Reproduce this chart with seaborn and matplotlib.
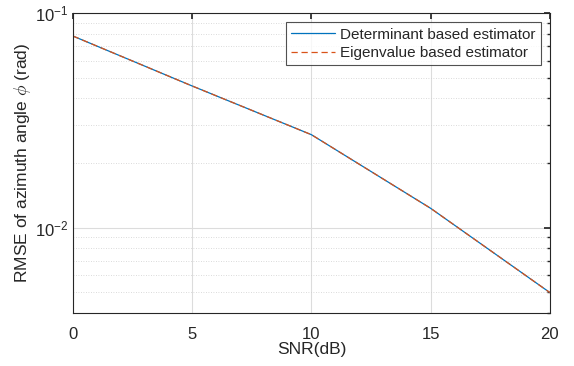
import matplotlib
matplotlib.use("Agg")
import matplotlib.pyplot as plt
import seaborn as sns
import pandas as pd
import numpy as np
from matplotlib.ticker import LogLocator, NullFormatter

snr = [0, 5, 10, 15, 20]
det_rmse = [0.0781, 0.0457, 0.0271, 0.0123, 0.00498]
eig_rmse = [0.0781, 0.0457, 0.0271, 0.0123, 0.00498]
series_names = ["Determinant based estimator", "Eigenvalue based estimator"]

sns.set_theme(style="white")
plt.rcParams['font.family'] = ['Liberation Sans', 'DejaVu Sans']
plt.rcParams['mathtext.fontset'] = 'cm'

df = pd.DataFrame({
    "SNR": snr * 2,
    "RMSE": det_rmse + eig_rmse,
    "Method": [series_names[0]] * len(snr) + [series_names[1]] * len(snr),
})

fig = plt.figure(figsize=(5.74, 3.66), dpi=100)
ax = fig.add_axes([0.127, 0.1448, 0.831, 0.8197])

sns.lineplot(data=df, x="SNR", y="RMSE", hue="Method", style="Method",
             palette=["#0072BD", "#D95319"], dashes=[(None, None), (5, 3)],
             linewidth=0.9, ax=ax, legend=True)

ax.set_yscale("log")
ax.set_xlim(0, 20)
ax.set_ylim(0.004, 0.1)
ax.set_xticks([0, 5, 10, 15, 20])
ax.yaxis.set_major_locator(LogLocator(base=10, numticks=10))
ax.yaxis.set_minor_locator(LogLocator(base=10, subs=np.arange(2, 10) * 1.0, numticks=20))
ax.yaxis.set_minor_formatter(NullFormatter())

ax.grid(True, which="major", color="#dcdcdc", linewidth=0.8, linestyle="-")
ax.grid(True, which="minor", axis="y", color="#cfcfcf", linewidth=0.6, linestyle=(0, (1, 2)))
ax.set_axisbelow(True)

for s in ax.spines.values():
    s.set_color("#262626")
    s.set_linewidth(0.8)
ax.tick_params(which="both", direction="in", top=True, right=True, colors="#262626",
               labelsize=12, labelcolor="#262626")
ax.tick_params(which="major", length=4)
ax.tick_params(which="minor", length=2.5)
ax.tick_params(axis="x", pad=10)

ax.set_xlabel("SNR(dB)", fontsize=12.5, color="#262626", labelpad=0)
ax.set_ylabel(r"RMSE of azimuth angle $\phi$ (rad)", fontsize=12.5, color="#262626", labelpad=1)

leg = ax.legend(loc="upper right", fontsize=11, frameon=True, fancybox=False,
                edgecolor="#262626", borderpad=0.35, handlelength=2.9,
                handletextpad=0.3, labelspacing=0.3, borderaxespad=0.6)
leg.get_frame().set_linewidth(0.8)

fig.savefig("out.png", dpi=100)
